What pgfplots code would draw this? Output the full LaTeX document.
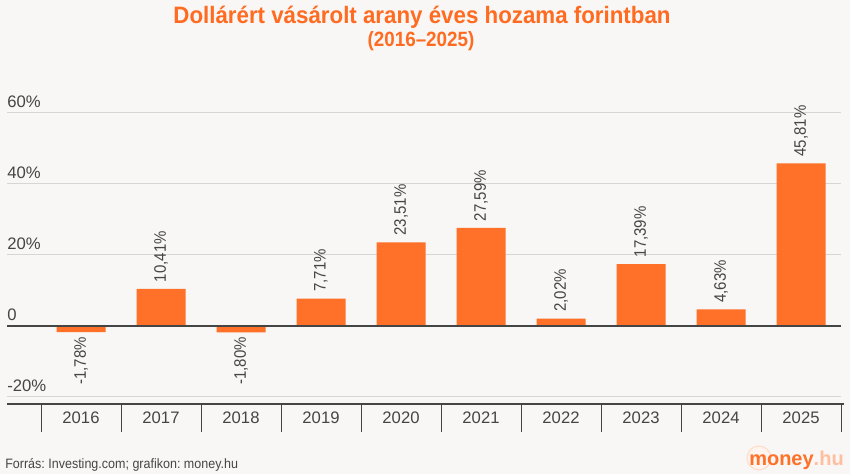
\documentclass[border=0pt]{standalone}
\usepackage{fontspec}
\setmainfont{Liberation Sans}
\usepackage{pgfplots}
\pgfplotsset{compat=1.18}
\definecolor{bg}{HTML}{F8F7F5}
\definecolor{barc}{HTML}{FF7029}
\definecolor{ttl}{HTML}{FF6B21}
\definecolor{txt}{HTML}{454545}
\definecolor{grd}{HTML}{D6D6D6}
\frenchspacing
\begin{document}
\begin{tikzpicture}[x=0.75pt,y=0.75pt]
\fill[bg] (0,0) rectangle (850,474);
\useasboundingbox (0,0) rectangle (850,474);
\begin{axis}[
  at={(5.25pt,52.5pt)}, anchor=south west,
  scale only axis, width=625.5pt, height=226.3pt,
  xmin=-0.925, xmax=9.5, ymin=-22, ymax=63,
  clip=false,
  axis line style={draw=none},
  ytick={-20,0,20,40,60},
  yticklabels={-20\%,0,20\%,40\%,60\%},
  yticklabel style={anchor=south west, inner sep=0pt, yshift=3.75pt, font=\fontsize{12.5}{14}\selectfont, text=txt},
  ymajorgrids, major grid style={grd, line width=0.75pt},
  xtick={0,...,9},
  xticklabels={2016,2017,2018,2019,2020,2021,2022,2023,2024,2025},
  xticklabel style={anchor=center, inner sep=0pt, yshift=-10.5pt, font=\fontsize{12.5}{14}\selectfont, text=txt},
  minor xtick={-0.5,0.5,...,9.5},
  major tick length=0pt,
  minor tick length=21pt,
  tick align=outside,
  xtick pos=bottom, ytick pos=left,
  minor tick style={txt, line width=0.75pt},
  ybar, bar width=36.75pt, bar shift=0pt,
  nodes near coords={\scalebox{0.9}[1]{\pgfmathprintnumber[fixed,fixed zerofill,precision=2,use comma,assume math mode=true]{\pgfplotspointmeta}\%}},
  every node near coord/.append style={rotate=90, anchor=west, inner xsep=5pt, inner ysep=0pt, font=\fontsize{12.5}{14}\selectfont, text=txt},
]
\addplot[fill=barc, draw=none] coordinates {
  (1,10.41) (3,7.71) (4,23.51) (5,27.59) (6,2.02) (7,17.39) (8,4.63) (9,45.81)
};
\addplot[fill=barc, draw=none, every node near coord/.append style={anchor=east, inner xsep=3.4pt}] coordinates {
  (0,-1.78) (2,-1.80)
};
\draw[txt, line width=1.1pt] (axis cs:-0.925,0) -- (axis cs:9.5,0);
\draw[txt, line width=1.6pt] (axis cs:-0.925,-22) -- (axis cs:9.54,-22);
\end{axis}
\node[text=ttl, font=\fontsize{17.8}{20}\selectfont\bfseries, anchor=base] at (422,450) {\scalebox{0.94}[1]{Dollárért vásárolt arany éves hozama forintban}};
\node[text=ttl, font=\fontsize{15.5}{18}\selectfont\bfseries, anchor=center] at (421,433) {\scalebox{0.91}[1]{(2016–2025)}};
\node[text=txt, font=\fontsize{10.2}{12}\selectfont, anchor=base west, inner sep=0pt] at (5,5) {\scalebox{0.92}[1]{Forrás: Investing.com; grafikon: money.hu}};
\fill[barc!8, draw=barc!25, line width=0.8pt] (759,16) circle (12);
\node[font=\fontsize{15}{17}\selectfont\bfseries, anchor=base west, inner sep=0pt] at (749,8) {\textcolor{barc}{money}\textcolor{barc!45}{.hu}};
\end{tikzpicture}
\end{document}
